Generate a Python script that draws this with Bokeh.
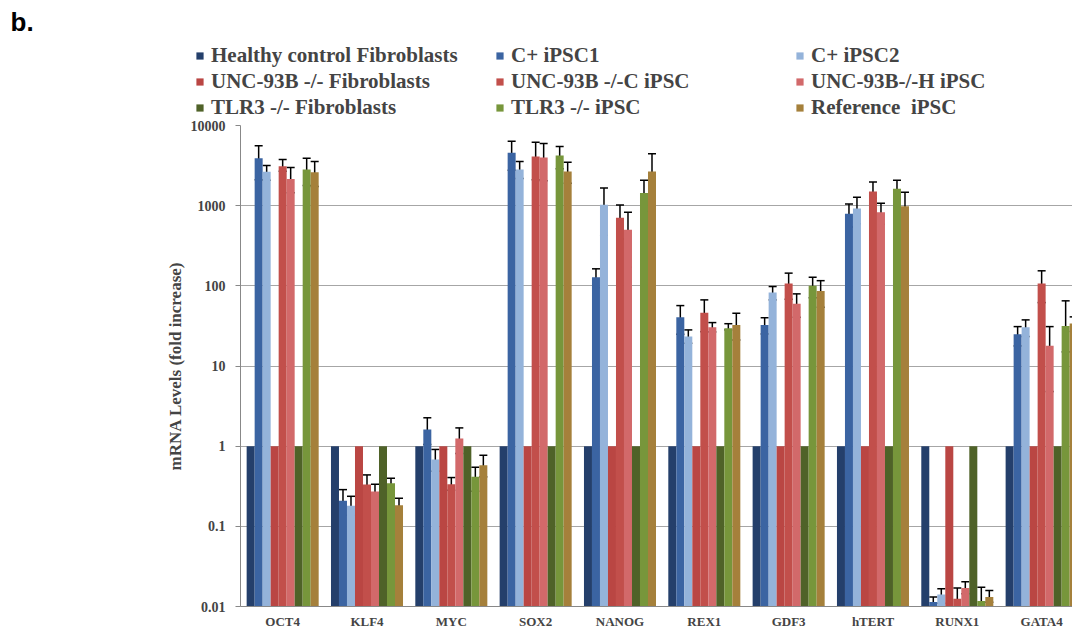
from bokeh.plotting import figure
from bokeh.layouts import column
from bokeh.models import (ColumnDataSource, Range1d, FixedTicker, CustomJSTickFormatter,
                          Whisker, TeeHead, Legend, LegendItem, Label)
from bokeh.embed import file_html
from bokeh.resources import INLINE

genes = ["OCT4", "KLF4", "MYC", "SOX2", "NANOG", "REX1", "GDF3", "hTERT", "RUNX1", "GATA4"]

series_names = ["Healthy control Fibroblasts", "C+ iPSC1", "C+ iPSC2",
                "UNC-93B -/- Fibroblasts", "UNC-93B -/-C iPSC", "UNC-93B-/-H iPSC",
                "TLR3 -/- Fibroblasts", "TLR3 -/- iPSC", "Reference  iPSC"]
colors = ["#243F6B", "#3B64A2", "#94B3DA", "#BA4643", "#C24F4B", "#D2696A",
          "#4F6228", "#77963B", "#A5803B"]

healthy_fib = [1, 1, 1, 1, 1, 1, 1, 1, 1, 1]
c1 = [3890, 0.208, 1.61, 4560, 128, 40.5, 32.5, 790, 0.0114, 24.9]
c1_hi = [5600, 0.287, 2.26, 6340, 163, 56.7, 40, 1050, 0.0131, 31]
c1_lo = [2100, 0.137, 1.05, 2770, 95, 24.9, 25.1, 540, 0.0101, 17.8]
c2 = [2650, 0.18, 0.68, 2820, 1030, 23.3, 82.6, 920, 0.0141, 30.5]
c2_hi = [3160, 0.237, 0.91, 3550, 1660, 28.2, 98, 1270, 0.0166, 37.6]
c2_lo = [2080, 0.137, 0.487, 2180, 429, 19.2, 66.8, 596, 0.011, 23.3]
unc_fib = [1, 1, 1, 1, 1, 1, 1, 1, 1, 1]
unc_c = [3100, 0.332, 0.335, 4100, 708, 46, 106.7, 1500, 0.0125, 106.7]
unc_c_hi = [3760, 0.438, 0.406, 6180, 1020, 66.8, 144, 1970, 0.017, 154]
unc_c_lo = [2690, 0.211, 0.282, 2110, 383, 26.8, 68, 1250, 0.0095, 61.8]
unc_h = [2150, 0.272, 1.25, 3980, 501, 30.5, 59.6, 830, 0.017, 17.9]
unc_h_hi = [2990, 0.335, 1.69, 5960, 827, 34.8, 79.4, 1070, 0.0204, 31]
unc_h_lo = [1450, 0.2, 0.81, 2040, 171, 26.6, 40.5, 585, 0.0144, 4.8]
tlr_fib = [1, 1, 1, 1, 1, 1, 1, 1, 1, 1]
tlr_ipsc = [2820, 0.345, 0.414, 4220, 1440, 29.5, 100, 1630, 0.0117, 31.6]
tlr_ipsc_hi = [3890, 0.398, 0.546, 5460, 2080, 33.7, 128, 2080, 0.0174, 65]
tlr_ipsc_lo = [1790, 0.30, 0.274, 2880, 850, 28.2, 71, 1210, 0.0098, 15]
ref = [2620, 0.183, 0.579, 2660, 2660, 32.5, 86.5, 980, 0.0131, 34]
ref_hi = [3560, 0.224, 0.77, 3470, 4440, 45.5, 116, 1470, 0.0158, 41]
ref_lo = [1740, 0.141, 0.414, 1910, 960, 21.1, 54, 480, 0.0113, 27]

values = [healthy_fib, c1, c2, unc_fib, unc_c, unc_h, tlr_fib, tlr_ipsc, ref]
highs = [None, c1_hi, c2_hi, None, unc_c_hi, unc_h_hi, None, tlr_ipsc_hi, ref_hi]
lows = [None, c1_lo, c2_lo, None, unc_c_lo, unc_h_lo, None, tlr_ipsc_lo, ref_lo]

y_ticks = [0.01, 0.1, 1, 10, 100, 1000, 10000]

SERIF = "Liberation Serif"
n_s = len(series_names)
bw = 0.0949
LEFT = 240

# ---------- legend / heading strip ----------
lf = figure(width=1072, height=120, x_range=Range1d(0, 1), y_range=Range1d(0, 1),
            output_backend="svg", toolbar_location=None,
            x_axis_location=None, y_axis_location=None,
            min_border_left=0, min_border_right=0, min_border_top=0, min_border_bottom=0)
lf.frame_align = False
lf.outline_line_color = None
lf.xgrid.visible = False
lf.ygrid.visible = False

lf.add_layout(Label(x=10, y=99, x_units="screen", y_units="screen", text="b.",
                    text_font="Liberation Sans", text_font_style="bold",
                    text_font_size="26px", text_baseline="alphabetic", text_color="black"))

items = []
for i in range(n_s):
    # zero-height proxy glyph only used for the legend swatch
    r = lf.vbar(x=[0], width=0, bottom=[0], top=[0], fill_color=colors[i], line_color=None)
    items.append(LegendItem(label=series_names[i], renderers=[r]))

legend = Legend(items=items, ncols=3, orientation="horizontal", location=(195, 0),
                glyph_width=9, glyph_height=9, label_standoff=7, label_width=283,
                label_height=22, spacing=1, padding=0, margin=0,
                border_line_color=None, background_fill_alpha=0,
                label_text_font=SERIF, label_text_font_style="bold",
                label_text_font_size="21px")
lf.add_layout(legend, "center")

# ---------- main chart ----------
p = figure(width=1072, height=511, x_range=Range1d(0, 9.866), y_range=Range1d(0.01, 10000),
           y_axis_type="log", output_backend="svg", toolbar_location=None,
           min_border_left=LEFT, min_border_right=0, min_border_top=5, min_border_bottom=25,
           background_fill_color="white", border_fill_color="white")
p.frame_align = False
p.outline_line_color = None

for i in range(n_s):
    xs = [g + 0.5 + (i - (n_s - 1) / 2) * bw for g in range(len(genes))]
    src = ColumnDataSource(dict(x=xs, top=values[i]))
    p.vbar(x="x", width=bw, bottom=0.01, top="top", source=src,
           fill_color=colors[i], line_color=None)
    if highs[i] is not None:
        esrc = ColumnDataSource(dict(x=xs, up=highs[i], lo=lows[i]))
        w = Whisker(source=esrc, base="x", upper="up", lower="lo", line_color="black",
                    line_width=1.5,
                    upper_head=TeeHead(size=8, line_color="black", line_width=1.5),
                    lower_head=TeeHead(size=8, line_color="black", line_width=1.5))
        p.add_layout(w)

yax = p.yaxis[0]
yax.ticker = FixedTicker(ticks=y_ticks, minor_ticks=[])
yax.formatter = CustomJSTickFormatter(code="return String(tick);")
yax.major_label_text_font = SERIF
yax.major_label_text_font_style = "bold"
yax.major_label_text_font_size = "14px"
yax.major_tick_out = 5
yax.major_tick_in = 0
yax.minor_tick_out = 0
yax.minor_tick_in = 0
yax.major_label_standoff = 10
yax.axis_line_color = "#888888"
yax.major_tick_line_color = "#888888"
yax.axis_label = "mRNA Levels (fold increase)"
yax.axis_label_text_font = SERIF
yax.axis_label_text_font_style = "bold"
yax.axis_label_text_font_size = "17px"
yax.axis_label_standoff = 3

xax = p.xaxis[0]
centers = [g + 0.5 for g in range(len(genes))]
xax.ticker = FixedTicker(ticks=centers, minor_ticks=[])
xax.major_label_overrides = {c: g for c, g in zip(centers, genes)}
xax.major_label_text_font = SERIF
xax.major_label_text_font_style = "bold"
xax.major_label_text_font_size = "13px"
xax.major_tick_out = 0
xax.major_tick_in = 0
xax.minor_tick_out = 0
xax.minor_tick_in = 0
xax.major_label_standoff = 7
xax.axis_line_color = "#888888"

p.xgrid.visible = False
p.ygrid.ticker = FixedTicker(ticks=y_ticks, minor_ticks=[])
p.ygrid.grid_line_color = "#A6A6A6"
p.ygrid.grid_line_width = 1

layout = column(lf, p, spacing=0)
open("out.html", "w").write(file_html(layout, INLINE))
